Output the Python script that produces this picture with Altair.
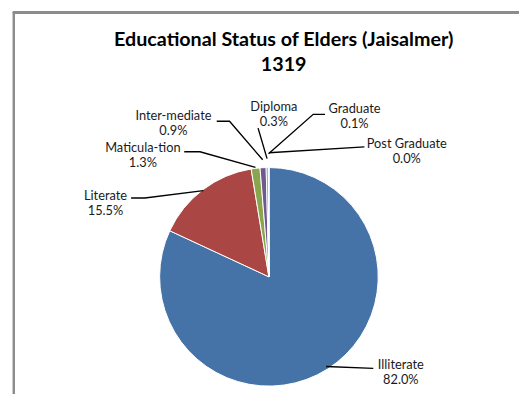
import altair as alt
import pandas as pd
import numpy as np

# ---------------- data ----------------
categories = ["Illiterate", "Literate", "Maticula-tion", "Inter-mediate",
              "Diploma", "Graduate", "Post Graduate"]
percent = [82.0, 15.5, 1.3, 0.9, 0.3, 0.1, 0.0]
title_lines = ["Educational Status of Elders (Jaisalmer)", "1319"]

# ---------------- style / layout ----------------
colors = ["#4572A7", "#AA4643", "#89A54E", "#71588F", "#4198AF", "#DB843D", "#93A9CF"]
FONT = "Lato"
MARGIN = 8          # page margin
TOP = 80            # padding above the view
W, H = 519, 386 - TOP

def px(x):
    return x - MARGIN

def py(y):
    return y - MARGIN - TOP

CENTER = (273, 278)
RADIUS = 111
TITLE_X = 288
TITLE_Y = [38, 63]
label_xy = [(407, 368), (107, 196), (145, 147), (176, 115), (278, 106), (360, 108), (413, 143)]
LINE_GAP = 15
leader_text_end = [(379, 371), (133, 198), (187, 151), (220, 120), (262, 127), (330, 113), (370, 146)]
leader_elbow = [None, (147, 198), (203, 151), (233, 120), None, (318, 113), None]
leader_radius = [108, 110, 112, 119, 120, 125, 126]

# ---------------- tables ----------------
pie_df = pd.DataFrame({
    "category": categories,
    "value": percent,
    "idx": list(range(len(categories))),
})

title_df = pd.DataFrame({
    "text": title_lines,
    "x": [px(TITLE_X)] * len(title_lines),
    "y": [py(v) for v in TITLE_Y],
})

vals = np.array(percent)
cum = np.cumsum(vals)
mid = (cum - vals / 2) / vals.sum() * 2 * np.pi

lab_rows = []
line_rows = []
for i, c in enumerate(categories):
    lx, ly = label_xy[i]
    lab_rows.append({"category": c, "name": c, "pct": f"{percent[i]:.1f}%",
                     "x": px(lx), "y1": py(ly), "y2": py(ly + LINE_GAP)})
    pts = [leader_text_end[i]]
    if leader_elbow[i] is not None:
        pts.append(leader_elbow[i])
    sx = CENTER[0] + leader_radius[i] * np.sin(mid[i])
    sy = CENTER[1] - leader_radius[i] * np.cos(mid[i])
    pts.append((sx, sy))
    for k, (a, b) in enumerate(pts):
        line_rows.append({"category": c, "k": k, "x": px(a), "y": py(b)})
lab_df = pd.DataFrame(lab_rows)
line_df = pd.DataFrame(line_rows)

# ---------------- marks ----------------
pie = alt.Chart(pie_df).mark_arc(radius=RADIUS, stroke="white", strokeWidth=1).encode(
    theta=alt.Theta("value:Q", stack=True),
    color=alt.Color("category:N", scale=alt.Scale(domain=categories, range=colors), legend=None),
    order=alt.Order("idx:Q"),
    x=alt.value(px(CENTER[0])),
    y=alt.value(py(CENTER[1])),
)

leaders = alt.Chart(line_df).mark_line(color="black", strokeWidth=1.4).encode(
    x=alt.X("x:Q", scale=None),
    y=alt.Y("y:Q", scale=None),
    detail="category:N",
    order="k:Q",
)

names = alt.Chart(lab_df).mark_text(font=FONT, fontSize=13, color="#1a1a1a",
                                    align="center", baseline="middle").encode(
    x=alt.X("x:Q", scale=None),
    y=alt.Y("y1:Q", scale=None),
    text="name:N",
)
pcts = alt.Chart(lab_df).mark_text(font=FONT, fontSize=13, color="#1a1a1a",
                                   align="center", baseline="middle").encode(
    x=alt.X("x:Q", scale=None),
    y=alt.Y("y2:Q", scale=None),
    text="pct:N",
)

title = alt.Chart(title_df).mark_text(font=FONT, fontSize=20, fontWeight="bold", color="black",
                                      align="center", baseline="middle").encode(
    x=alt.X("x:Q", scale=None),
    y=alt.Y("y:Q", scale=None),
    text="text:N",
)

frame_left = alt.Chart(pie_df).mark_rule(color="#8c8c8c", strokeWidth=2).encode(
    x=alt.value(px(14)), y=alt.value(py(9)), y2=alt.value(H + 20))
frame_top = alt.Chart(pie_df).mark_rule(color="#8c8c8c", strokeWidth=2).encode(
    x=alt.value(px(13)), x2=alt.value(W + 20), y=alt.value(py(9.5)))

chart = alt.layer(frame_left, frame_top, pie, leaders, names, pcts, title).properties(
    width=W, height=H,
    padding={"left": 0, "top": TOP, "right": 0, "bottom": 0},
    autosize=alt.AutoSizeParams(type="none"),
).configure_view(stroke=None)

chart.save("out.html", embed_options={"renderer": "svg", "actions": False})
